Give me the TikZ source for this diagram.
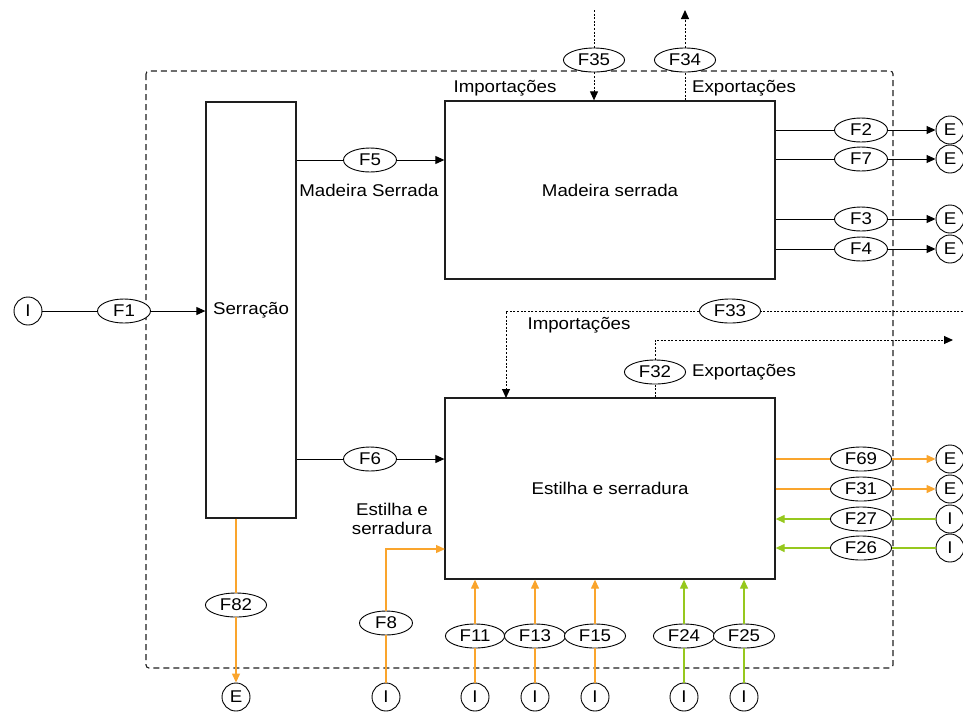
\documentclass[tikz,border=0pt]{standalone}
\usepackage{fontspec}
\setmainfont{Liberation Sans}[FakeStretch=1.1]
\usetikzlibrary{positioning,arrows.meta,shapes.geometric}
\definecolor{residuecolor}{RGB}{250,165,45}
\definecolor{importcolor}{RGB}{150,200,30}
\definecolor{framecolor}{RGB}{30,30,30}

\begin{document}
\begin{tikzpicture}[
    x=1pt, y=-1pt,
    >={Triangle[length=9pt,width=8pt]},
    every node/.style={font=\fontsize{17}{21}\selectfont},
    procbox/.style={draw=framecolor, line width=1.3pt, fill=white, inner sep=0pt},
    flowlbl/.style={draw, ellipse, fill=white, line width=0.9pt, minimum width=53pt,
        minimum height=24pt, inner xsep=5.5pt, inner ysep=0pt},
    endpt/.style={draw, circle, fill=white, line width=0.9pt, minimum size=28pt, inner sep=0pt},
    flow/.style={line width=1pt},
    resid/.style={line width=1.3pt, residuecolor},
    imp/.style={line width=1.3pt, importcolor},
    trade/.style={line width=1pt, dash pattern=on 2pt off 1.6pt}
]

% page size: 963 x 713
\useasboundingbox (0,0) rectangle (963,713);

% system boundary
\draw[framecolor, line width=1.1pt, dash pattern=on 6pt off 4pt, rounded corners=3pt]
    (146,71) rectangle (893,668);

% Processes
\node[procbox, minimum width=90pt, minimum height=416pt] (serr) at (251,310) {Serração};
\node[procbox, minimum width=330pt, minimum height=178pt] (mad) at (610,190) {Madeira serrada};
\node[procbox, minimum width=330pt, minimum height=181pt] (est) at (610,488.5) {Estilha e serradura};

% Input to sawmill
\node[endpt] (I1) at (28,311) {I};
\node[flowlbl] (F1) at (124,311) {F1};
\draw[flow] (I1) -- (F1);
\draw[flow, ->] (F1) -- (serr.west |- F1);

% Sawmill outputs
\node[flowlbl] (F5) at (370,160) {F5};
\node (lblF5) at (369,190) {Madeira Serrada};
\draw[flow] (serr.east |- F5) -- (F5);
\draw[flow, ->] (F5) -- (mad.west |- F5);

\node[flowlbl] (F6) at (370,459) {F6};
\node[align=center, font=\fontsize{17}{19}\selectfont] (lblF6) at (392,519) {Estilha e\\serradura};
\draw[flow] (serr.east |- F6) -- (F6);
\draw[flow, ->] (F6) -- (est.west |- F6);

\node[flowlbl] (F82) at (236,605) {F82};
\node[endpt] (E82) at (236,697) {E};
\draw[resid] (serr.south -| F82) -- (F82);
\draw[resid, ->] (F82) -- (E82);

% Sawn wood: trade
\node[flowlbl] (F35) at (594,60) {F35};
\node[flowlbl] (F34) at (685,60) {F34};
\coordinate (top35) at (594,10);
\coordinate (top34) at (685,10);
\draw[trade] (top35) -- (F35);
\draw[trade, ->] (F35) -- (mad.north -| F35);
\draw[trade] (mad.north -| F34) -- (F34);
\draw[trade, ->] (F34) -- (top34);
\node (lblF35) at (505,88) {Importações};
\node (lblF34) at (744,88) {Exportações};

% Sawn wood: outputs
\foreach \f/\y in {2/130, 7/159, 3/219, 4/249} {
    \node[flowlbl] (F\f) at (861,\y) {F\f};
    \node[endpt] (E\f) at (950,\y) {E};
    \draw[flow] (mad.east |- F\f) -- (F\f);
    \draw[flow, ->] (F\f) -- (E\f);
}

% Chips and sawdust: trade
\node[flowlbl] (F33) at (730,311) {F33};
\coordinate (rim33) at (963,311);
\coordinate (in33) at (506,398);
\draw[trade] (rim33) -- (F33);
\draw[trade, ->] (F33) -| (in33);
\node (lblF33) at (579,325) {Importações};

\node[flowlbl] (F32) at (655,372) {F32};
\coordinate (out32) at (953,340);
\draw[trade] (est.north -| F32) -- (F32);
\draw[trade, ->] (F32) |- (out32);
\node (lblF32) at (744,372) {Exportações};

% Chips and sawdust: outputs and inputs at the right
\foreach \f/\y in {69/459, 31/489} {
    \node[flowlbl] (F\f) at (861,\y) {F\f};
    \node[endpt] (E\f) at (950,\y) {E};
    \draw[resid] (est.east |- F\f) -- (F\f);
    \draw[resid, ->] (F\f) -- (E\f);
}
\foreach \f/\y in {27/519, 26/548} {
    \node[flowlbl] (F\f) at (861,\y) {F\f};
    \node[endpt] (I\f) at (950,\y) {I};
    \draw[imp] (I\f) -- (F\f);
    \draw[imp, ->] (F\f) -- (est.east |- F\f);
}

% Chips and sawdust: inputs from below
\node[flowlbl] (F8) at (386,623) {F8};
\node[endpt] (I8) at (386,697) {I};
\coordinate (in8) at (445,549);
\draw[resid] (I8) -- (F8);
\draw[resid, ->] (F8) |- (in8);

\foreach \f/\x in {11/475, 13/535, 15/595} {
    \node[flowlbl] (F\f) at (\x,636) {F\f};
    \node[endpt] (I\f) at (\x,697) {I};
    \draw[resid] (I\f) -- (F\f);
    \draw[resid, ->] (F\f) -- (est.south -| F\f);
}
\foreach \f/\x in {24/684, 25/744} {
    \node[flowlbl] (F\f) at (\x,636) {F\f};
    \node[endpt] (I\f) at (\x,697) {I};
    \draw[imp] (I\f) -- (F\f);
    \draw[imp, ->] (F\f) -- (est.south -| F\f);
}

\end{tikzpicture}
\end{document}
